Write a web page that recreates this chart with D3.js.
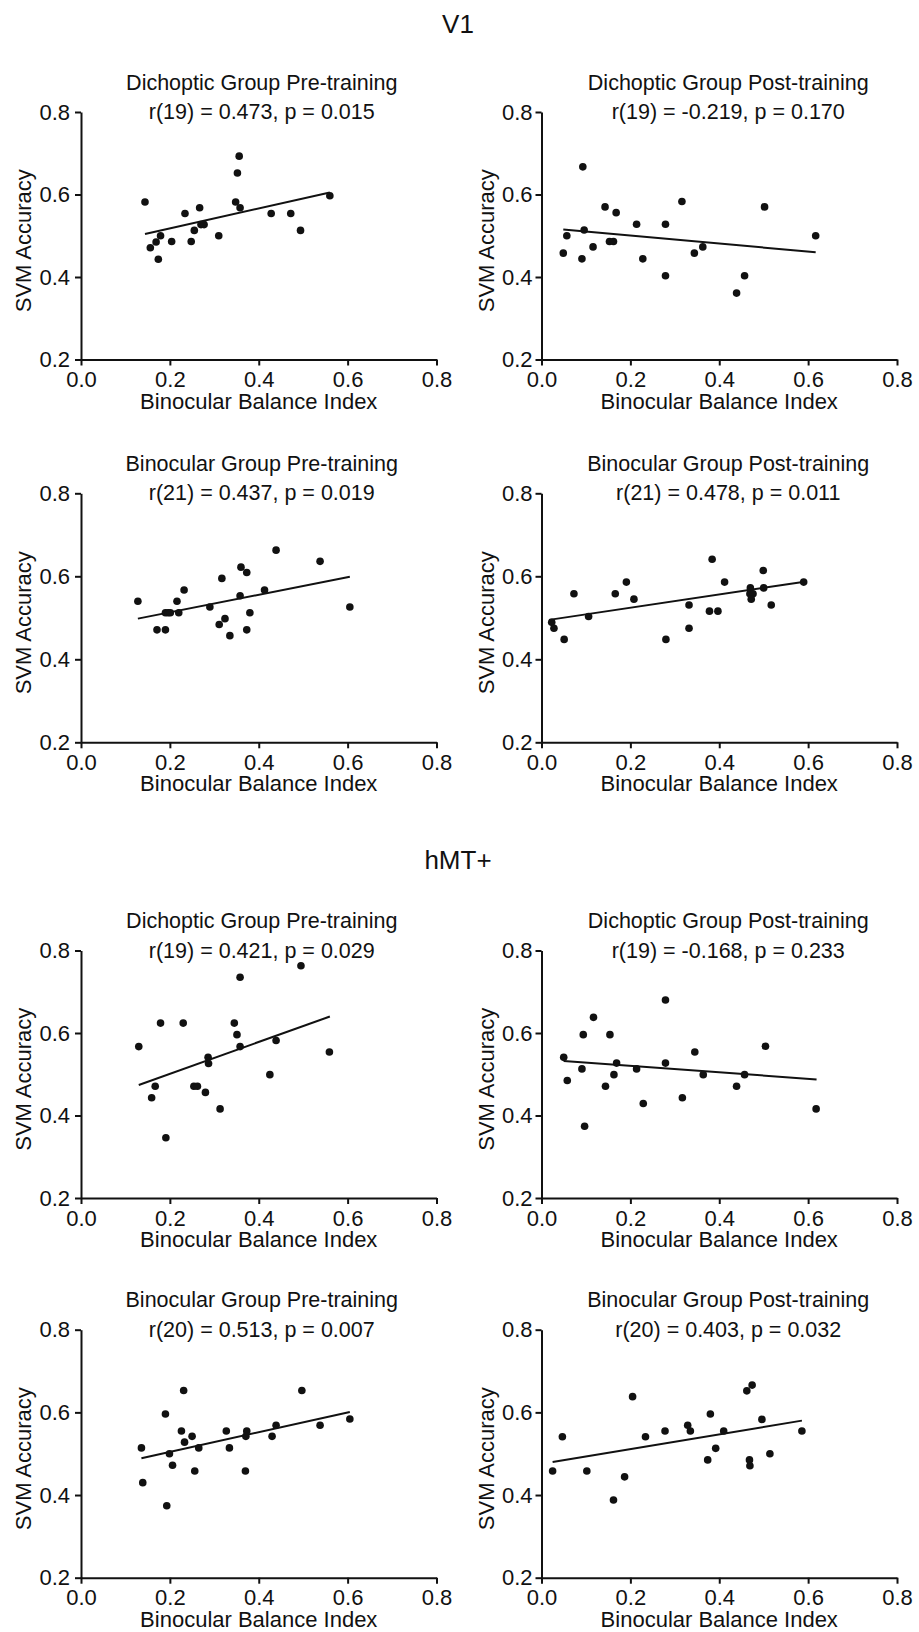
<!DOCTYPE html>
<html>
<head>
<meta charset="utf-8">
<script src="https://cdn.jsdelivr.net/npm/d3@7"></script>
<style>
  body { margin: 0; background: #fff; }
  svg text { font-family: "Liberation Sans", Arial, sans-serif; fill: #111; }
  .axis path, .axis line { stroke: #111; stroke-width: 2px; }
  .axis text { font-size: 22px; }
</style>
</head>
<body>
<div id="chart"></div>
<script>
// section headers + panel labels
var sections = ["V1", "hMT+"];
var panelTitles = [
  "Dichoptic Group Pre-training", "Dichoptic Group Post-training",
  "Binocular Group Pre-training", "Binocular Group Post-training",
  "Dichoptic Group Pre-training", "Dichoptic Group Post-training",
  "Binocular Group Pre-training", "Binocular Group Post-training"
];
var panelStats = [
  "r(19) = 0.473, p = 0.015", "r(19) = -0.219, p = 0.170",
  "r(21) = 0.437, p = 0.019", "r(21) = 0.478, p = 0.011",
  "r(19) = 0.421, p = 0.029", "r(19) = -0.168, p = 0.233",
  "r(20) = 0.513, p = 0.007", "r(20) = 0.403, p = 0.032"
];
var xTicks = [0.0, 0.2, 0.4, 0.6, 0.8];
var yTicks = [0.2, 0.4, 0.6, 0.8];

// [binocular balance index, SVM accuracy]
var v1DichPre = [[0.144,0.582],[0.156,0.471],[0.169,0.485],[0.179,0.500],[0.174,0.443],[0.204,0.486],
  [0.234,0.554],[0.248,0.486],[0.255,0.513],[0.267,0.568],[0.270,0.527],[0.277,0.527],[0.310,0.500],
  [0.348,0.582],[0.352,0.652],[0.356,0.693],[0.358,0.568],[0.428,0.554],[0.472,0.554],[0.494,0.513],[0.560,0.597]];
var v1DichPost = [[0.049,0.458],[0.057,0.500],[0.091,0.444],[0.093,0.667],[0.096,0.514],[0.116,0.473],
  [0.143,0.570],[0.153,0.486],[0.162,0.486],[0.168,0.556],[0.214,0.528],[0.228,0.444],[0.279,0.528],
  [0.279,0.403],[0.316,0.583],[0.344,0.458],[0.363,0.473],[0.439,0.361],[0.457,0.403],[0.502,0.570],[0.617,0.500]];
var v1BinoPre = [[0.128,0.540],[0.171,0.471],[0.190,0.512],[0.190,0.471],[0.196,0.512],[0.201,0.512],
  [0.216,0.540],[0.220,0.512],[0.232,0.567],[0.290,0.526],[0.311,0.484],[0.317,0.595],[0.324,0.498],
  [0.335,0.457],[0.358,0.553],[0.360,0.622],[0.373,0.609],[0.373,0.471],[0.380,0.512],[0.413,0.567],
  [0.439,0.663],[0.538,0.636],[0.605,0.526]];
var v1BinoPost = [[0.023,0.489],[0.028,0.475],[0.051,0.448],[0.073,0.558],[0.106,0.503],[0.166,0.558],
  [0.191,0.586],[0.208,0.545],[0.280,0.448],[0.332,0.531],[0.332,0.475],[0.378,0.516],[0.384,0.641],
  [0.397,0.516],[0.412,0.586],[0.470,0.572],[0.469,0.558],[0.476,0.558],[0.472,0.545],[0.499,0.614],
  [0.500,0.572],[0.517,0.531],[0.590,0.586]];
var mtDichPre = [[0.130,0.567],[0.159,0.443],[0.167,0.471],[0.179,0.624],[0.191,0.346],[0.230,0.624],
  [0.254,0.471],[0.262,0.471],[0.280,0.456],[0.286,0.541],[0.287,0.526],[0.313,0.416],[0.345,0.624],
  [0.351,0.596],[0.358,0.735],[0.358,0.567],[0.425,0.499],[0.439,0.582],[0.495,0.763],[0.559,0.554]];
var mtDichPost = [[0.050,0.541],[0.058,0.485],[0.091,0.513],[0.094,0.596],[0.097,0.374],[0.117,0.638],
  [0.144,0.471],[0.154,0.596],[0.163,0.499],[0.169,0.527],[0.214,0.513],[0.229,0.429],[0.279,0.680],
  [0.279,0.527],[0.317,0.443],[0.345,0.554],[0.364,0.499],[0.439,0.471],[0.457,0.499],[0.504,0.568],[0.618,0.416]];
var mtBinoPre = [[0.136,0.514],[0.139,0.430],[0.190,0.596],[0.193,0.374],[0.199,0.500],[0.206,0.472],
  [0.226,0.555],[0.231,0.653],[0.233,0.528],[0.250,0.542],[0.256,0.458],[0.265,0.514],[0.327,0.555],
  [0.334,0.514],[0.370,0.458],[0.373,0.555],[0.371,0.542],[0.430,0.542],[0.439,0.569],[0.497,0.653],
  [0.538,0.569],[0.605,0.584]];
var mtBinoPost = [[0.025,0.458],[0.047,0.541],[0.102,0.458],[0.162,0.388],[0.187,0.444],[0.205,0.638],
  [0.234,0.541],[0.278,0.555],[0.329,0.569],[0.335,0.555],[0.374,0.485],[0.380,0.596],[0.392,0.513],
  [0.410,0.555],[0.462,0.652],[0.474,0.666],[0.468,0.485],[0.469,0.471],[0.496,0.583],[0.514,0.500],[0.586,0.555]];

// fitted line end points as drawn in the figure
var fitLines = [
  [[0.144,0.504],[0.560,0.605]], [[0.049,0.515],[0.617,0.460]],
  [[0.128,0.498],[0.605,0.599]], [[0.017,0.495],[0.592,0.587]],
  [[0.130,0.474],[0.560,0.640]], [[0.050,0.532],[0.619,0.4875]],
  [[0.136,0.489],[0.605,0.601]], [[0.025,0.480],[0.586,0.580]]
];

var panelData = [v1DichPre, v1DichPost, v1BinoPre, v1BinoPost, mtDichPre, mtDichPost, mtBinoPre, mtBinoPost];

var width = 919, height = 1632;
var colX = [[81, 436.5], [541.5, 897]];
var rowY = [[112, 359.5], [493.3, 742.3], [950.5, 1198], [1329.7, 1577.7]];

var svg = d3.select("#chart").append("svg")
  .attr("width", width)
  .attr("height", height);

// section headers
svg.append("text").attr("x", 458).attr("y", 33).attr("text-anchor", "middle")
  .style("font-size", "26px").text(sections[0]);
svg.append("text").attr("x", 458).attr("y", 869).attr("text-anchor", "middle")
  .style("font-size", "26px").text(sections[1]);

panelData.forEach(function(points, i) {
  var col = i % 2, row = Math.floor(i / 2);
  var x0 = colX[col][0], x1 = colX[col][1];
  var top = rowY[row][0], bottom = rowY[row][1];

  var xScale = d3.scaleLinear().domain([0, 0.8]).range([x0, x1]);
  var yScale = d3.scaleLinear().domain([0.2, 0.8]).range([bottom, top]);

  var g = svg.append("g");

  g.append("g")
    .attr("class", "axis")
    .attr("transform", "translate(0," + bottom + ")")
    .call(d3.axisBottom(xScale).tickValues(xTicks).tickFormat(d3.format(".1f"))
      .tickSize(6).tickSizeOuter(0).tickPadding(6));

  g.append("g")
    .attr("class", "axis")
    .attr("transform", "translate(" + x0 + ",0)")
    .call(d3.axisLeft(yScale).tickValues(yTicks).tickFormat(d3.format(".1f"))
      .tickSize(6).tickSizeOuter(0).tickPadding(col ? 3 : 5));

  g.selectAll(".axis text").style("fill", "#111");

  // regression line
  g.append("line")
    .attr("x1", xScale(fitLines[i][0][0])).attr("y1", yScale(fitLines[i][0][1]))
    .attr("x2", xScale(fitLines[i][1][0])).attr("y2", yScale(fitLines[i][1][1]))
    .attr("stroke", "#111").attr("stroke-width", 2);

  g.selectAll("circle")
    .data(points)
    .enter()
    .append("circle")
    .attr("cx", d => xScale(d[0]))
    .attr("cy", d => yScale(d[1]))
    .attr("r", 3.8)
    .attr("fill", "#111");

  // titles
  var cx = (x0 + x1) / 2 + (col ? 9 : 3);
  g.append("text").attr("x", cx).attr("y", top - 22.5).attr("text-anchor", "middle")
    .style("font-size", "21.5px").text(panelTitles[i]);
  g.append("text").attr("x", cx).attr("y", top + 7).attr("text-anchor", "middle")
    .style("font-size", "21.5px").text(panelStats[i]);

  // axis labels
  g.append("text").attr("x", (x0 + x1) / 2).attr("y", bottom + 49).attr("text-anchor", "middle")
    .style("font-size", "22px").text("Binocular Balance Index");
  g.append("text")
    .attr("transform", "translate(" + (x0 - (col ? 48 : 50)) + "," + ((top + bottom) / 2 + 5) + ") rotate(-90)")
    .attr("text-anchor", "middle")
    .style("font-size", "22px").text("SVM Accuracy");
});
</script>
</body>
</html>
